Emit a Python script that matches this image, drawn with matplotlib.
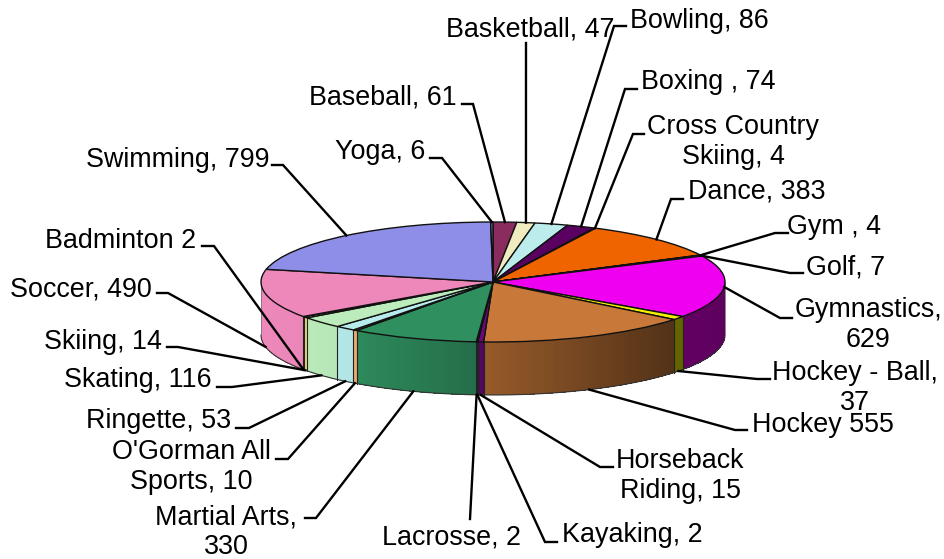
import numpy as np
import matplotlib
matplotlib.use("Agg")
import matplotlib.pyplot as plt
from matplotlib.colors import to_rgb

plt.rcParams['font.family'] = ['Liberation Sans', 'DejaVu Sans']

sports = ["Baseball", "Basketball", "Bowling", "Boxing", "Cross Country Skiing", "Dance", "Gym", "Golf",
          "Gymnastics", "Hockey - Ball", "Hockey", "Horseback Riding", "Kayaking", "Lacrosse",
          "Martial Arts", "O'Gorman All Sports", "Ringette", "Skating", "Skiing", "Badminton",
          "Soccer", "Swimming", "Yoga"]
counts = [61, 47, 86, 74, 4, 383, 4, 7, 629, 37, 555, 15, 2, 2, 330, 10, 53, 116, 14, 2, 490, 799, 6]
label_texts = ["Baseball, 61", "Basketball, 47", "Bowling, 86", "Boxing , 74", "Cross Country\nSkiing, 4",
               "Dance, 383", "Gym , 4", "Golf, 7", "Gymnastics,\n629", "Hockey - Ball,\n37", "Hockey 555",
               "Horseback\nRiding, 15", "Kayaking, 2", "Lacrosse, 2", "Martial Arts,\n330",
               "O'Gorman All\nSports, 10", "Ringette, 53", "Skating, 116", "Skiing, 14", "Badminton 2",
               "Soccer, 490", "Swimming, 799", "Yoga, 6"]
colors = ["#8b2c5e", "#f0ecc0", "#bcecec", "#5a0060", "#f08070", "#f06400", "#1060c0", "#c0c0f0",
          "#f000f0", "#f0f000", "#c87838", "#6a0a7a", "#3030a0", "#40c0c0", "#2f8f5f", "#f0b070",
          "#b8ecec", "#bcecbc", "#e8d878", "#3060a0", "#ee88bb", "#8e8ee8", "#7878c8"]

# layout, all in reference pixels
CX, CY, RX, RY, DEPTH = 493.0, 282.0, 232.0, 60.0, 53.0
WIDTH, HEIGHT = 944, 559
TEXT_DY = 2

# label centre, then the elbow of its leader (label end, bend)
label_pos = [(383, 95), (530, 28), (699, 19), (708, 80), (733, 140), (757, 190), (834, 225), (846, 265),
             (868, 323), (855, 386), (823, 423), (680, 474), (632, 533), (452, 536), (226, 530),
             (191, 465), (159, 419), (138, 378), (103, 340), (121, 239), (81, 287), (178, 158), (380, 150)]
elbows = [((462, 104), (473, 104)), ((526, 43), (526, 43)), ((626, 26), (614, 26)), ((637, 89), (625, 89)),
          ((644, 134), (633, 134)), ((683, 199), (671, 199)), ((788, 233), (775, 233)), ((803, 273), (790, 273)),
          ((792, 318), (780, 318)), ((770, 379), (757, 379)), ((747, 430), (735, 430)), ((613, 467), (600, 467)),
          ((557, 542), (545, 542)), ((470, 519), (470, 519)), ((305, 518), (316, 518)), ((276, 459), (288, 459)),
          ((236, 428), (249, 428)), ((217, 387), (232, 387)), ((167, 347), (178, 347)), ((202, 246), (214, 246)),
          ((157, 293), (168, 293)), ((272, 165), (283, 165)), ((430, 158), (442, 158))]

fig = plt.figure(figsize=(WIDTH / 100, HEIGHT / 100), dpi=100, facecolor='white')

# full figure axes: the unit circle lands on the squashed pie top
ax = fig.add_axes([0, 0, 1, 1])
ax.pie(counts, colors=colors, startangle=90, counterclock=False,
       wedgeprops={'edgecolor': '#111111', 'linewidth': 1.0}, frame=False)
ax.set_aspect('auto')
ax.set_xlim((0 - CX) / RX, (WIDTH - CX) / RX)
ax.set_ylim((CY - HEIGHT) / RY, CY / RY)
ax.axis('off')

values = np.array(counts, dtype=float)
edges = np.concatenate([[0], np.cumsum(values)]) / values.sum() * 2 * np.pi
depth_u = DEPTH / RY


def wall_shade(theta):
    # side wall gets darker towards the right
    x_px = CX + RX * np.sin(theta)
    return np.interp(x_px, [260, 350, 470, 670, 725], [1.0, 0.97, 0.78, 0.42, 0.39])


# side wall, only the front half is visible
front_a, front_b = np.pi / 2, 3 * np.pi / 2
for i in range(len(counts)):
    a, b = max(edges[i], front_a), min(edges[i + 1], front_b)
    if b <= a:
        continue
    base = np.array(to_rgb(colors[i]))
    steps = np.linspace(a, b, max(2, int((b - a) / 0.01) + 2))
    for t0, t1 in zip(steps[:-1], steps[1:]):
        c = tuple(base * wall_shade((t0 + t1) / 2))
        ts = np.array([t0, t1])
        xs = np.sin(ts)
        ys = np.cos(ts)
        ax.fill([xs[0], xs[1], xs[1], xs[0]], [ys[0], ys[1], ys[1] - depth_u, ys[0] - depth_u],
                facecolor=c, edgecolor='none', antialiased=False, zorder=0.5)

for e in edges:
    if front_a < e < front_b:
        ax.plot([np.sin(e)] * 2, [np.cos(e), np.cos(e) - depth_u], color='#222222', lw=0.8, zorder=0.8)
arc = np.linspace(front_a, front_b, 200)
ax.plot(np.sin(arc), np.cos(arc) - depth_u, color='#333333', lw=0.8, zorder=0.8)
for e in (front_a, front_b):
    ax.plot([np.sin(e)] * 2, [np.cos(e), np.cos(e) - depth_u], color='#777777', lw=0.6, zorder=0.8)

# labels and leaders in pixel coordinates
over = fig.add_axes([0, 0, 1, 1])
over.set_xlim(0, WIDTH)
over.set_ylim(HEIGHT, 0)
over.axis('off')
over.patch.set_alpha(0)

mids = (edges[:-1] + edges[1:]) / 2
for text, pos, elbow, mid in zip(label_texts, label_pos, elbows, mids):
    rim_x = CX + RX * np.sin(mid)
    rim_y = CY - RY * np.cos(mid)
    # front slices take the leader at the wall's bottom edge
    if np.cos(mid) < -0.15:
        rim_y += DEPTH
    over.plot([elbow[0][0], elbow[1][0], rim_x], [elbow[0][1], elbow[1][1], rim_y],
              color='black', lw=1.7, solid_joinstyle='miter')
    over.text(pos[0], pos[1] + TEXT_DY, text, ha='center', va='center', fontsize=19.4, color='black',
              linespacing=1.2, multialignment='center')

fig.savefig('out.png', dpi=100, facecolor='white')
